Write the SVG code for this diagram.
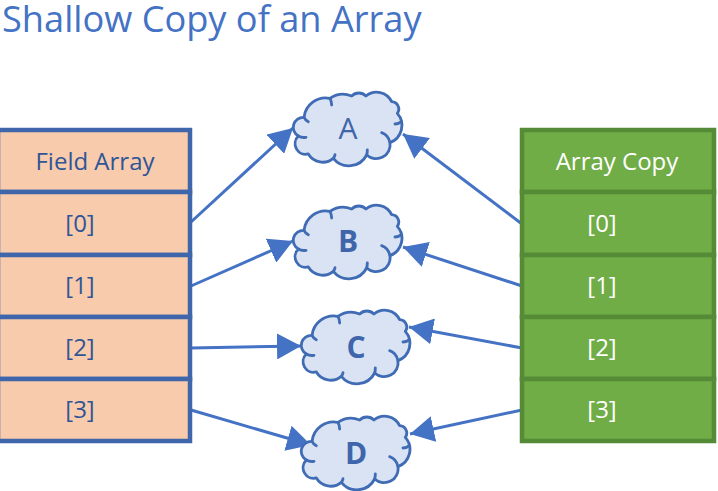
<svg xmlns="http://www.w3.org/2000/svg" width="718" height="491" viewBox="0 0 718 491">
<style>
text{font-family:"Open Sans","Noto Sans","Liberation Sans",sans-serif;text-anchor:middle}
.title{font-size:36.2px;fill:#4472c4;text-anchor:start}
.l{fill:#f8cbad;stroke:#3f66ab;stroke-width:4.5}
.r{fill:#70ad47;stroke:#558a36;stroke-width:4.5}
.lt{font-size:24px;fill:#2f5597}
.rt{font-size:24px;fill:#fff}
.c{fill:#dae3f3;stroke:#3f6cb5;stroke-width:8.5;stroke-linejoin:round}
.ci{fill:none;stroke:#3f6cb5;stroke-width:8.5;stroke-linecap:round}
.ct{font-size:30px;fill:#3f66ab}
.b{font-weight:700}
.a{stroke:#4472c4;stroke-width:3;fill:none;marker-end:url(#h)}
</style>
<defs>
<marker id="h" markerUnits="userSpaceOnUse" markerWidth="28" markerHeight="26" refX="24" refY="13" orient="auto"><path d="M0,0L24,13L0,26Z" fill="#4472c4"/></marker>
<g id="cloud" transform="scale(.3333)">
<path class="c" d="M72,112A30,30 0 0 0 55,168A32,32 0 0 0 85,222A50,50 0 0 0 160,235A60,60 0 0 0 260,225A42,42 0 0 0 330,188A55,55 0 0 0 352,100A22,22 0 0 0 335,65A50,50 0 0 0 258,48A30,30 0 0 0 215,48A70,70 0 0 0 150,55A65,65 0 0 0 72,112Z"/>
<path class="ci" d="M72,112Q75,120 85,125M55,168Q65,174 78,172M160,235Q164,230 165,224M260,225Q262,218 262,210M330,188Q325,165 305,158M364,125Q356,132 345,132M150,55Q155,65 155,75"/>
</g>
</defs>
<text class="title" x="2" y="32">Shallow Copy of an Array</text>
<g id="connectors">
<path class="a" d="M191,222L293,128"/>
<path class="a" d="M191,286L293,241"/>
<path class="a" d="M191,348L301,346"/>
<path class="a" d="M191,410L311,445"/>
<path class="a" d="M522,224L403,134"/>
<path class="a" d="M522,286L403,247"/>
<path class="a" d="M522,348L409,327"/>
<path class="a" d="M522,410L410,434"/>
</g>
<g id="field-array">
<rect class="l" x="-2" y="130" width="192" height="62"/><text class="lt" x="95" y="170">Field Array</text>
<rect class="l" x="-2" y="192" width="192" height="63"/><text class="lt" x="80" y="232">[0]</text>
<rect class="l" x="-2" y="255" width="192" height="62"/><text class="lt" x="80" y="294">[1]</text>
<rect class="l" x="-2" y="317" width="192" height="62"/><text class="lt" x="80" y="356">[2]</text>
<rect class="l" x="-2" y="379" width="192" height="62"/><text class="lt" x="80" y="418">[3]</text>
</g>
<g id="array-copy">
<rect class="r" x="522" y="130" width="192" height="62"/><text class="rt" x="617" y="170">Array Copy</text>
<rect class="r" x="522" y="192" width="192" height="63"/><text class="rt" x="602" y="232">[0]</text>
<rect class="r" x="522" y="255" width="192" height="62"/><text class="rt" x="602" y="294">[1]</text>
<rect class="r" x="522" y="317" width="192" height="62"/><text class="rt" x="602" y="356">[2]</text>
<rect class="r" x="522" y="379" width="192" height="62"/><text class="rt" x="602" y="418">[3]</text>
</g>
<g id="node-a"><use href="#cloud" transform="translate(280,80)"/><text class="ct" x="348" y="139">A</text></g>
<g id="node-b"><use href="#cloud" transform="translate(280,193)"/><text class="ct b" x="348" y="252">B</text></g>
<g id="node-c"><use href="#cloud" transform="translate(288,298)"/><text class="ct b" x="356" y="358">C</text></g>
<g id="node-d"><use href="#cloud" transform="translate(288,404)"/><text class="ct b" x="356" y="464">D</text></g>
</svg>
